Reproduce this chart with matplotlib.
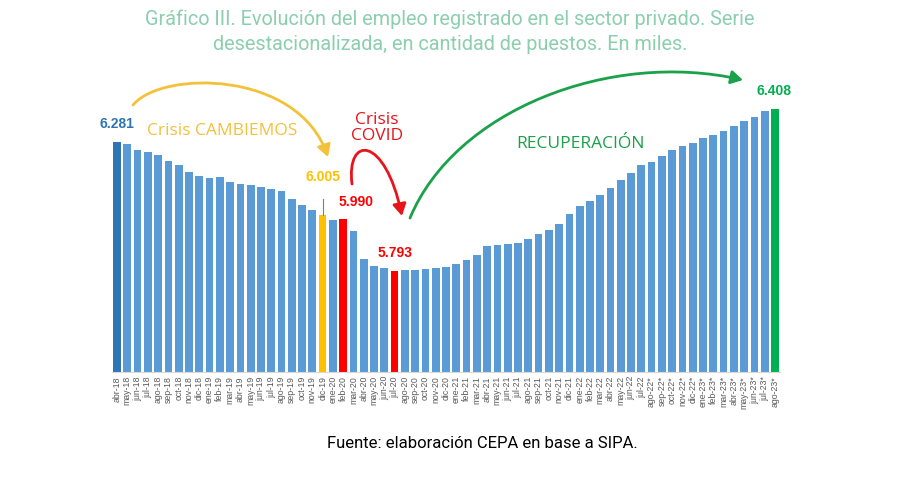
import matplotlib.pyplot as plt
from matplotlib.patches import FancyArrowPatch
from matplotlib.path import Path

# meses abr-18 .. ago-23 (en miles de puestos)
meses = ['abr-18', 'may-18', 'jun-18', 'jul-18', 'ago-18', 'sep-18', 'oct-18', 'nov-18', 'dic-18',
         'ene-19', 'feb-19', 'mar-19', 'abr-19', 'may-19', 'jun-19', 'jul-19', 'ago-19', 'sep-19',
         'oct-19', 'nov-19', 'dic-19', 'ene-20', 'feb-20', 'mar-20', 'abr-20', 'may-20', 'jun-20',
         'jul-20', 'ago-20', 'sep-20', 'oct-20', 'nov-20', 'dic-20', 'ene-21', 'feb-21', 'mar-21',
         'abr-21', 'may-21', 'jun-21', 'jul-21', 'ago-21', 'sep-21', 'oct-21', 'nov-21', 'dic-21',
         'ene-22', 'feb-22', 'mar-22', 'abr-22', 'may-22', 'jun-22', 'jul-22', 'ago-22*', 'sep-22*',
         'oct-22*', 'nov-22*', 'dic-22*', 'ene-23*', 'feb-23*', 'mar-23*', 'abr-23*', 'may-23*',
         'jun-23*', 'jul-23*', 'ago-23*']
empleo = [6.281, 6.273, 6.252, 6.243, 6.234, 6.210, 6.195, 6.168, 6.153,
          6.144, 6.149, 6.130, 6.124, 6.118, 6.110, 6.104, 6.096, 6.067,
          6.043, 6.023, 6.005, 5.985, 5.990, 5.944, 5.836, 5.812, 5.804,
          5.793, 5.794, 5.797, 5.799, 5.805, 5.806, 5.820, 5.833, 5.854,
          5.888, 5.891, 5.896, 5.897, 5.915, 5.934, 5.948, 5.972, 6.010,
          6.039, 6.057, 6.080, 6.108, 6.137, 6.163, 6.195, 6.206, 6.230,
          6.251, 6.266, 6.280, 6.296, 6.309, 6.325, 6.342, 6.361, 6.377,
          6.400, 6.408]

AZUL = '#5B9BD5'
AZUL_OSC = '#2E75B6'
AMARILLO = '#FFC000'
ROJO = '#FF0000'
VERDE = '#00B050'

colores = [AZUL] * len(empleo)
colores[0] = AZUL_OSC
colores[meses.index('dic-19')] = AMARILLO
colores[meses.index('feb-20')] = ROJO
colores[meses.index('jul-20')] = ROJO
colores[-1] = VERDE

fig = plt.figure(figsize=(9, 5.04), dpi=100)
ax = fig.add_axes([0.1243, 0.262, 0.7425, 0.619])
x = list(range(len(empleo)))
ax.bar(x, empleo, width=0.75, color=colores)
ax.set_xlim(-0.5, len(empleo) - 0.5)
ax.set_ylim(5.408, 6.594)
ax.set_xticks(x)
ax.set_xticklabels(meses, rotation=90, fontsize=6.3, color='#595959', family='Liberation Sans')
ax.tick_params(axis='x', length=0, pad=3)
ax.set_yticks([])
for s in ['top', 'right', 'left']:
    ax.spines[s].set_visible(False)
ax.spines['bottom'].set_color('#D9D9D9')


def px(xp, yp):
    return (xp / 900, 1 - yp / 504)


def curva(puntos, color, lw=2.0):
    verts = [px(*p) for p in puntos]
    path = Path(verts, [Path.MOVETO, Path.CURVE4, Path.CURVE4, Path.CURVE4])
    a = FancyArrowPatch(path=path, arrowstyle='-|>,head_length=7,head_width=4',
                        color=color, lw=lw, transform=fig.transFigure,
                        mutation_scale=1)
    fig.patches.append(a)


fuente = 'Liberation Sans'

# valores destacados
ax.annotate('6.281', (0, empleo[0]), xytext=(0, 8), textcoords='offset points',
            ha='center', va='bottom', color=AZUL_OSC, fontsize=10, fontweight='bold', family=fuente)
i = meses.index('dic-19')
ax.annotate('6.005', (i, empleo[i]), xytext=(0, 22), textcoords='offset points',
            ha='center', va='bottom', color=AMARILLO, fontsize=10, fontweight='bold', family=fuente)
ax.plot([i, i], [empleo[i], empleo[i] + 0.06], color='#7F7F7F', lw=0.8)
i = meses.index('feb-20')
ax.annotate('5.990', (i, empleo[i]), xytext=(-3, 7), textcoords='offset points',
            ha='left', va='bottom', color=ROJO, fontsize=10, fontweight='bold', family=fuente)
i = meses.index('jul-20')
ax.annotate('5.793', (i, empleo[i]), xytext=(0, 8), textcoords='offset points',
            ha='center', va='bottom', color=ROJO, fontsize=10, fontweight='bold', family=fuente)
ax.annotate('6.408', (len(empleo) - 1, empleo[-1]), xytext=(-1, 8), textcoords='offset points',
            ha='center', va='bottom', color=VERDE, fontsize=10, fontweight='bold', family=fuente)

# textos de periodos
fig.text(*px(222, 131), 'Crisis CAMBIEMOS', ha='center', va='center', color='#F3C13A',
         fontsize=12.5, family='Open Sans')
fig.text(*px(377, 128), 'Crisis\nCOVID', ha='center', va='center', color='#E8141B',
         fontsize=12.5, family='Open Sans', linespacing=1.05)
fig.text(*px(581, 144), 'RECUPERACIÓN', ha='center', va='center', color='#1AA14A',
         fontsize=12.5, family='Open Sans')

# flechas
curva([(133, 105), (162, 70), (298, 70), (328, 157)], '#F3C13A')
curva([(352, 184), (346, 135), (385, 135), (402, 216)], '#E8141B')
curva([(410, 218), (455, 110), (610, 50), (743, 80)], '#1AA14A')

# titulo y fuente
fig.text(0.5, 1 - 19 / 504, 'Gráfico III. Evolución del empleo registrado en el sector privado. Serie',
         ha='center', va='center', color='#8CCFAE', fontsize=14.3, family='Roboto')
fig.text(0.5, 1 - 45 / 504, 'desestacionalizada, en cantidad de puestos. En miles.',
         ha='center', va='center', color='#8CCFAE', fontsize=14.3, family='Roboto')
fig.text(482 / 900, 1 - 443 / 504, 'Fuente: elaboración CEPA en base a SIPA.',
         ha='center', va='center', color='#000000', fontsize=12, family='Roboto')

fig.savefig('out.png', dpi=100)
